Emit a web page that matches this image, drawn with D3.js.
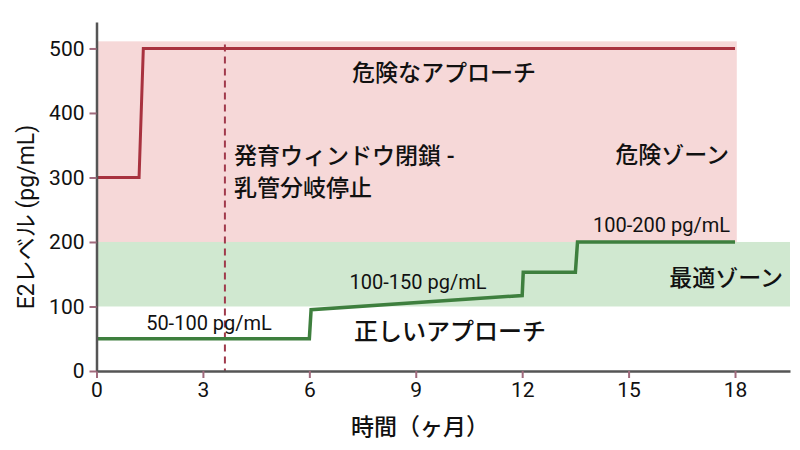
<!DOCTYPE html>
<html><head><meta charset="utf-8">
<script src="https://cdn.jsdelivr.net/npm/d3@7"></script>
<style>
body{margin:0;background:#fff;}
text{font-family:Roboto,"Noto Sans CJK JP",sans-serif;fill:#111;}
</style></head>
<body><svg id="c" width="800" height="450"></svg>
<script>
// Data
const xTicks = [0, 3, 6, 9, 12, 15, 18];
const yTicks = [0, 100, 200, 300, 400, 500];
const dangerSeries = [[0,300],[1.2,300],[1.32,500],[18,500]];
const correctSeries = [[0,50],[6,50],[6.05,95],[12,117],[12.03,153],[13.5,153],[13.56,200],[18,200]];
const dangerZone = {x0:0, x1:18.05, y0:200, y1:511};
const optimalZone = {x0:0, x1:19.55, y0:100, y1:200};
const windowClose = 3.62;
const xLabel = "時間（ヶ月）";
const yLabel = "E2レベル (pg/mL)";

const svg = d3.select("#c");
const x = d3.scaleLinear().domain([0,19.55]).range([96.5,790]);
const y = d3.scaleLinear().domain([0,541]).range([371,22]);

// zones
svg.append("rect").attr("x",x(dangerZone.x0)).attr("y",y(dangerZone.y1))
  .attr("width",x(dangerZone.x1)-x(dangerZone.x0)).attr("height",y(dangerZone.y0)-y(dangerZone.y1))
  .attr("fill","#f6d8d8");
svg.append("rect").attr("x",x(optimalZone.x0)).attr("y",y(optimalZone.y1))
  .attr("width",x(optimalZone.x1)-x(optimalZone.x0)).attr("height",y(optimalZone.y0)-y(optimalZone.y1))
  .attr("fill","#d0e8d0");

// dashed line
svg.append("line").attr("x1",x(windowClose)).attr("x2",x(windowClose))
  .attr("y1",y(506)).attr("y2",y(0))
  .attr("stroke","#a03a4c").attr("stroke-width",2).attr("stroke-dasharray","7,5");

const line = d3.line().x(d=>x(d[0])).y(d=>y(d[1]));
svg.append("path").datum(dangerSeries).attr("d",line).attr("fill","none")
  .attr("stroke","#a8323f").attr("stroke-width",3);
svg.append("path").datum(correctSeries).attr("d",line).attr("fill","none")
  .attr("stroke","#3e7f3e").attr("stroke-width",3.5);

// axes
const xa = svg.append("g").attr("transform","translate(0,371)")
  .call(d3.axisBottom(x).tickValues(xTicks).tickSize(7).tickSizeOuter(0).tickPadding(4));
const ya = svg.append("g").attr("transform","translate(96.5,0)")
  .call(d3.axisLeft(y).tickValues(yTicks).tickSize(7).tickSizeOuter(0).tickPadding(5));
[xa,ya].forEach(a=>{
  a.select(".domain").attr("stroke","#555").attr("stroke-width",2.5);
  a.selectAll(".tick line").attr("stroke","#a06a7c").attr("stroke-width",2);
  a.selectAll(".tick text").attr("font-size",21).attr("fill","#1a1a1a")
   .style("font-family","Roboto,sans-serif");
});

const T = (t,px,py,opt={})=>svg.append("text").attr("x",px).attr("y",py)
  .attr("font-size",opt.size||21).attr("text-anchor",opt.anchor||"start")
  .attr("font-weight",opt.w||400)
  .attr("dominant-baseline","central").text(t);

T("危険なアプローチ", 444, 73, {anchor:"middle", size:23, w:500});
T("発育ウィンドウ閉鎖 -", 234, 156, {size:23, w:500});
T("乳管分岐停止", 234, 188, {size:23, w:500});
T("危険ゾーン", 729, 155, {anchor:"end", size:23, w:500});
T("100-200 pg/mL", 730, 225, {anchor:"end", size:20});
T("最適ゾーン", 783, 278, {anchor:"end", size:23, w:500});
T("100-150 pg/mL", 418, 282, {anchor:"middle", size:20});
T("50-100 pg/mL", 209, 323, {anchor:"middle", size:20});
T("正しいアプローチ", 450, 332, {anchor:"middle", size:24, w:500});
T(xLabel, 420, 427, {anchor:"middle", size:23, w:500});
svg.append("text").attr("transform","translate(26,217) rotate(-90)")
  .attr("text-anchor","middle").attr("dominant-baseline","central")
  .attr("font-size",23).text(yLabel);
</script></body></html>
